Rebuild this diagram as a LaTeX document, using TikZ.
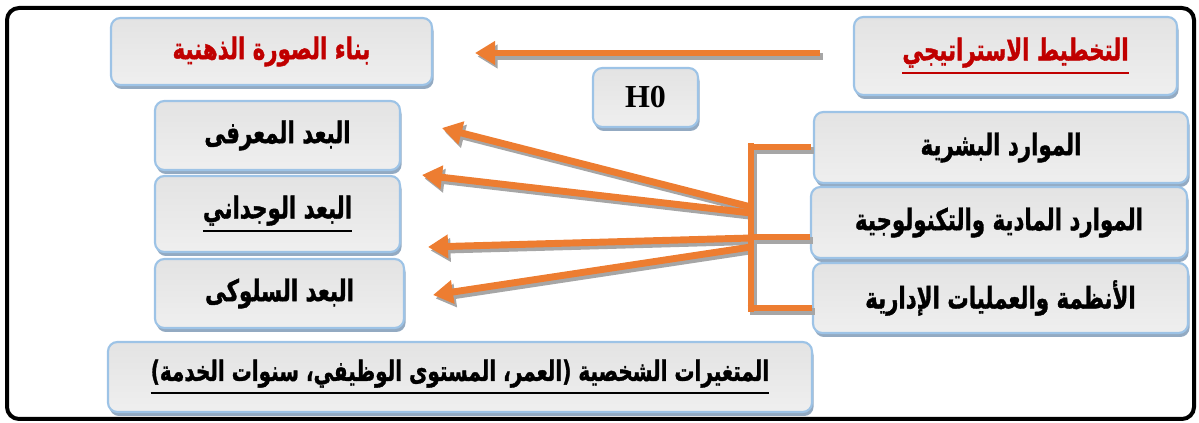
\documentclass[tikz,border=0pt]{standalone}
\usepackage{fontspec}
\usepackage{graphicx}
\TeXXeTstate=1
\newfontfamily\arabicfont[Script=Arabic, BoldFeatures={FakeBold=1.4}]{DejaVu Sans}
\newfontfamily\latinserif{Liberation Serif}
\usetikzlibrary{arrows.meta,shadows,calc}

\definecolor{orangeline}{HTML}{ED7D31}
\definecolor{lineshadow}{HTML}{A6A6A6}
\definecolor{boxborder}{HTML}{9DC3E6}
\definecolor{boxshadow}{HTML}{93AAC2}
\definecolor{boxtop}{HTML}{E3E3E3}
\definecolor{boxbottom}{HTML}{EFEFEF}
\definecolor{darkred}{HTML}{C00000}

% heavy, tall Arabic label
\newcommand{\artext}[1]{\scalebox{1}[1.4]{\arabicfont\bfseries\beginR #1\endR}}
% label with a thick rule beneath it
\newcommand{\thickul}[1]{\setbox0\hbox{#1}\vtop{\copy0\kern3.2pt\hrule height 1.8pt width \wd0}}

\begin{document}
\begin{tikzpicture}[x=0.75pt,y=-0.75pt,
  sz/.style 2 args={minimum width=0.75pt*#1, minimum height=0.75pt*#2},
  roundbox/.style={rectangle, rounded corners=7pt, draw=boxborder, line width=1.6pt,
    top color=boxtop, bottom color=boxbottom, inner sep=0pt,
    drop shadow={shadow xshift=1.2pt, shadow yshift=-3pt, fill=boxshadow, opacity=1},
    font=\fontsize{16}{19}\selectfont},
  wire/.style={draw=orangeline, line width=5.2pt},
  wireshadow/.style={draw=lineshadow, line width=5.2pt},
  tip/.style={-{Triangle[length=15pt, width=17pt]}}
]
\useasboundingbox (0,0) rectangle (1199,423);

% outer frame
\draw[line width=3pt, rounded corners=9pt] (7,8) rectangle (1194,419);

% boxes
\node[roundbox, sz={321}{67}] (img) at (271.5,51.5) {\color{darkred}\artext{بناء الصورة الذهنية}};
\node[roundbox, sz={323}{78}] (sp)  at (1015.5,56) {\color{darkred}\thickul{\artext{التخطيط الاستراتيجي}}};
\node[roundbox, sz={105}{59}, font=\latinserif\bfseries\fontsize{24}{26}\selectfont] (h0) at (645.5,97.5) {H0};

\node[roundbox, sz={245}{69}] (d1) at (277.5,135.5) {\artext{البعد المعرفى}};
\node[roundbox, sz={245}{76}] (d2) at (277.5,214) {\thickul{\artext{البعد الوجداني}}};
\node[roundbox, sz={249}{69}] (d3) at (279.5,293.5) {\artext{البعد السلوكى}};

\node[roundbox, sz={704}{70}, font=\fontsize{15}{18}\selectfont] (pv) at (460,377) {\thickul{\artext{المتغيرات الشخصية (العمر، المستوى الوظيفي، سنوات الخدمة)}}};

\node[roundbox, sz={374}{71}] (hr) at (1001,147.5) {\artext{الموارد البشرية}};
\node[roundbox, sz={376}{71}] (mt) at (999,222.5) {\artext{الموارد المادية والتكنولوجية}};
\node[roundbox, sz={375}{70}] (sy) at (1000.5,298) {\artext{الأنظمة والعمليات الإدارية}};

% connector points
\coordinate (top-s) at (820,53);
\coordinate (top-e) at (475,53);
\coordinate (br-t) at (751,143.5);
\coordinate (br-b) at (751,312);
\coordinate (st1) at (747.5,147);
\coordinate (st2) at (747.5,237);
\coordinate (st3) at (747.5,308);
\coordinate (se1) at (811,147);
\coordinate (se2) at (810,237);
\coordinate (se3) at (812,308);
\coordinate (f1) at (751,207);
\coordinate (f2) at (751,213);
\coordinate (f3) at (751,238);
\coordinate (f4) at (751,247);
\coordinate (t1) at (442,128);
\coordinate (t2) at (422,175);
\coordinate (t3) at (428,247);
\coordinate (t4) at (433,295);

% shadows of the connectors
\begin{scope}[transform canvas={xshift=1.9pt, yshift=-2.6pt}]
  \draw[wireshadow, tip] (top-s) -- (top-e);
  \draw[wireshadow] (br-t) -- (br-b);
  \draw[wireshadow] (st1) -- (se1);
  \draw[wireshadow] (st2) -- (se2);
  \draw[wireshadow] (st3) -- (se3);
  \draw[wireshadow, tip] (f1) -- (t1);
  \draw[wireshadow, tip] (f2) -- (t2);
  \draw[wireshadow, tip] (f3) -- (t3);
  \draw[wireshadow, tip] (f4) -- (t4);
\end{scope}

% orange connectors
\draw[wire, tip] (top-s) -- (top-e);
\draw[wire] (br-t) -- (br-b);
\draw[wire] (st1) -- (se1);
\draw[wire] (st2) -- (se2);
\draw[wire] (st3) -- (se3);
\draw[wire, tip] (f1) -- (t1);
\draw[wire, tip] (f2) -- (t2);
\draw[wire, tip] (f3) -- (t3);
\draw[wire, tip] (f4) -- (t4);
\end{tikzpicture}
\end{document}
